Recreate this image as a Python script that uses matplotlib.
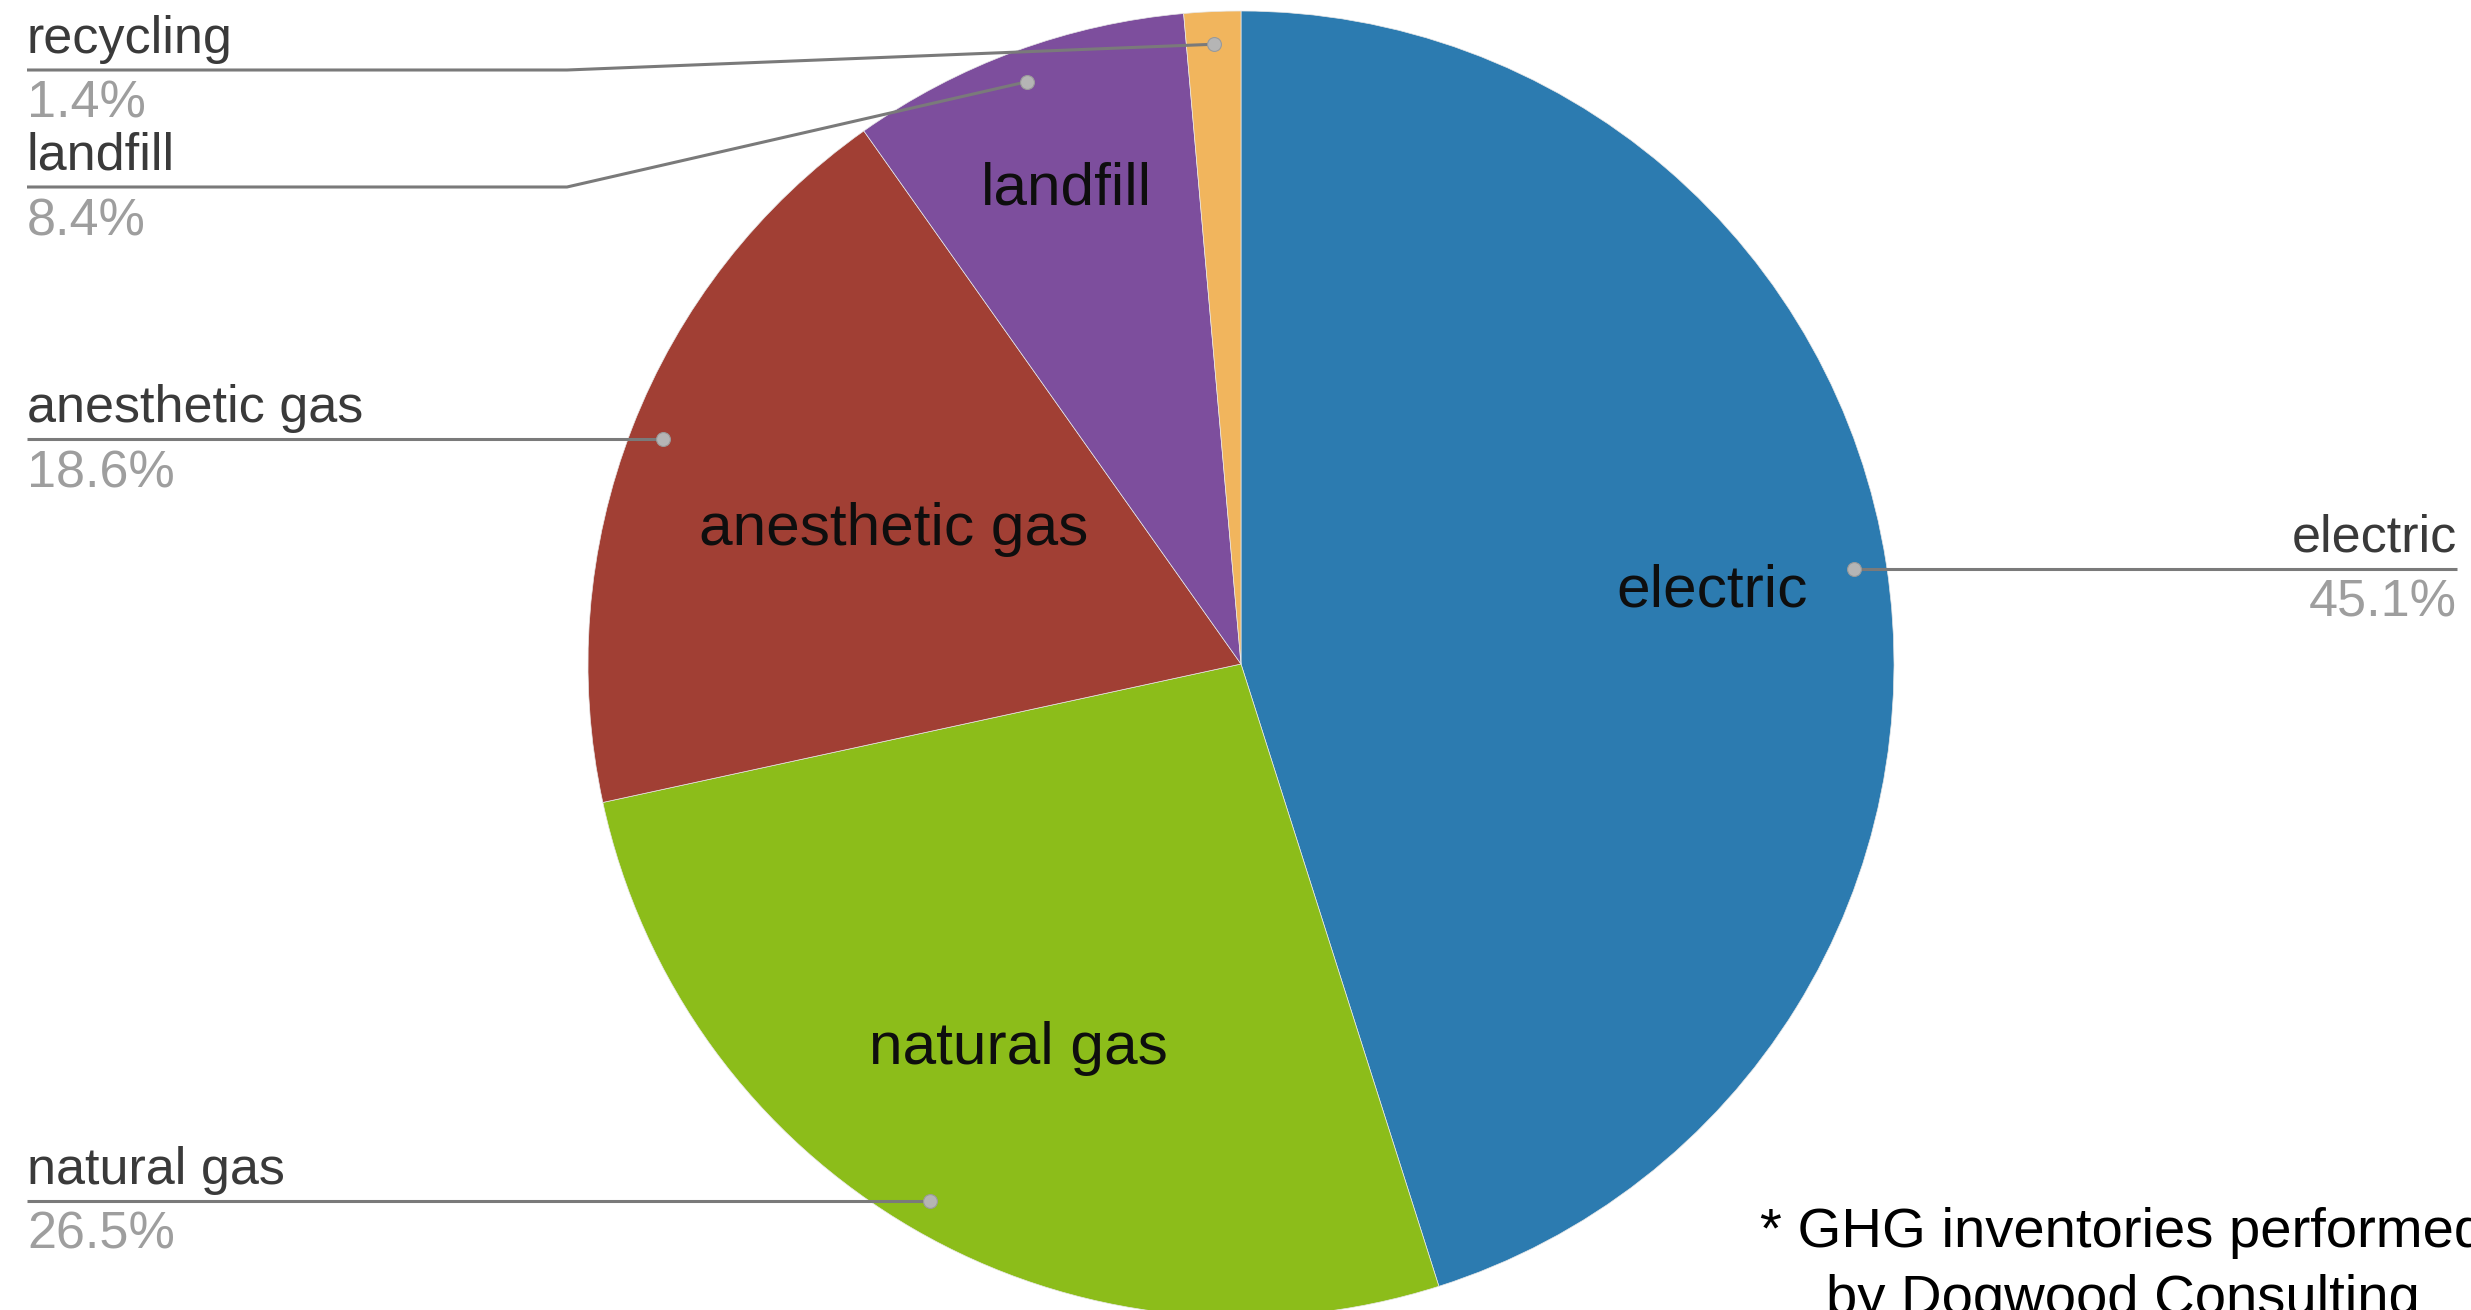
import numpy as np
import matplotlib.pyplot as plt

plt.rcParams['font.family'] = ['Liberation Sans', 'DejaVu Sans']

categories = ["electric", "natural gas", "anesthetic gas", "landfill", "recycling"]
shares = [45.1, 26.5, 18.6, 8.4, 1.4]
colors = ["#2c7bb0", "#8cbd1a", "#a13f34", "#7d4e9d", "#f1b55d"]
pct_labels = ["45.1%", "26.5%", "18.6%", "8.4%", "1.4%"]
footnote = ["* GHG inventories performed", "by Dogwood Consulting"]

# layout (pixel units of the 2471x1310 canvas)
W, H = 2471, 1310
cx, cy, R = 1241, 664, 653
inner_frac = [0.73, 0.68, 0.57, 0.775, None]
label_side = ["right", "left", "left", "left", "left"]
fixed_line_y = {"recycling": 70, "landfill": 187}
knee_x = 567
left_x, right_x = 27, 2457

fig = plt.figure(figsize=(W / 100, H / 100), dpi=100)
ax = fig.add_axes([0, 0, 1, 1])
ax.pie(shares, colors=colors, startangle=-90, counterclock=True,
       center=(cx, cy), radius=R,
       wedgeprops=dict(edgecolor="#e8e8e8", linewidth=0.5))
ax.set_xlim(0, W)
ax.set_ylim(H, 0)
ax.set_aspect("auto")
ax.axis("off")

vals = np.array(shares)
mid = np.deg2rad((np.cumsum(vals) - vals / 2) / vals.sum() * 360)

line_col = "#7a7a7a"
for i, cat in enumerate(categories):
    th = mid[i]
    # inside label
    if inner_frac[i] is not None:
        r = inner_frac[i] * R
        ax.text(cx + r * np.sin(th), cy - r * np.cos(th), cat,
                ha="center", va="center", fontsize=43.5, color="#0e0e0e")
    # leader line with dot
    dx = cx + 0.95 * R * np.sin(th)
    dy = cy - 0.95 * R * np.cos(th)
    if label_side[i] == "left":
        ly = fixed_line_y.get(cat, dy)
        if cat in fixed_line_y:
            xs, ys = [left_x, knee_x, dx], [ly, ly, dy]
        else:
            xs, ys = [left_x, dx], [ly, ly]
        tx, ha = left_x, "left"
    else:
        ly = dy
        xs, ys = [dx, right_x], [ly, ly]
        tx, ha = right_x, "right"
    ax.plot(xs, ys, color=line_col, lw=2.2, solid_capstyle="butt", zorder=3)
    ax.plot([dx], [dy], "o", ms=10, color="#b5b5b5", mec="#9a9a9a", mew=0.8, zorder=4)
    ax.text(tx, ly - 17, cat, ha=ha, va="baseline", fontsize=37.5, color="#3a3a3a")
    ax.text(tx, ly + 48, pct_labels[i], ha=ha, va="baseline", fontsize=37.5, color="#9e9e9e")

# footnote runs past the right edge, as in the source image
ax.text(2123, 1247, footnote[0], ha="center", va="baseline", fontsize=40.5, color="black")
ax.text(2123, 1314, footnote[1], ha="center", va="baseline", fontsize=40.5, color="black")

plt.savefig("out.png", dpi=100)
